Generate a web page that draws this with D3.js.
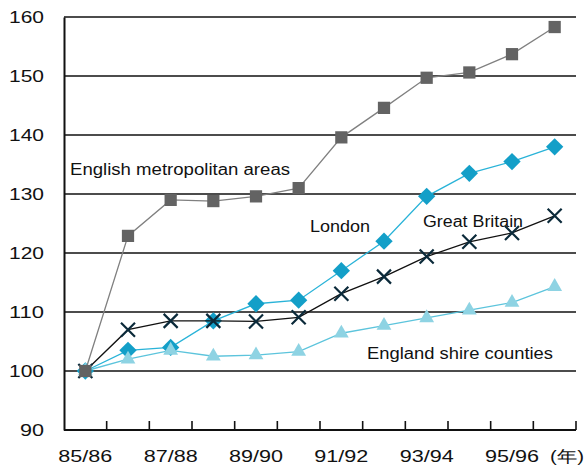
<!DOCTYPE html>
<html>
<head>
<meta charset="utf-8">
<script src="https://cdn.jsdelivr.net/npm/d3@7"></script>
<style>
  html, body { margin: 0; padding: 0; background: #fff; }
  svg { display: block; }
  text { font-family: "Liberation Sans", Arial, sans-serif; fill: #111; }
</style>
</head>
<body>
<svg id="chart" width="585" height="470"></svg>
<script>
// Fiscal years on the horizontal axis
const categories = ["85/86","86/87","87/88","88/89","89/90","90/91","91/92","92/93","93/94","94/95","95/96","96/97"];
// Index values (1985/86 = 100)
const metroValues  = [100, 122.9, 129.0, 128.8, 129.6, 131.0, 139.6, 144.6, 149.7, 150.6, 153.7, 158.3];
const londonValues = [100, 103.5, 104.0, 108.5, 111.4, 112.0, 117.0, 122.0, 129.6, 133.5, 135.5, 138.0];
const britainValues = [100, 107.0, 108.5, 108.5, 108.4, 109.1, 113.1, 116.0, 119.4, 121.9, 123.4, 126.3];
const shireValues  = [100, 102.0, 103.5, 102.5, 102.7, 103.3, 106.4, 107.7, 109.0, 110.3, 111.6, 114.3];
const yTicks = [90, 100, 110, 120, 130, 140, 150, 160];
const xTickLabels = ["85/86", "87/88", "89/90", "91/92", "93/94", "95/96"];
const unitLabel = "(年)";
const seriesNames = ["English metropolitan areas", "London", "Great Britain", "England shire counties"];

(function () {
  const svg = d3.select("#chart");
  const plotLeft = 64, plotRight = 576, plotTop = 17, plotBottom = 430;

  const x = d3.scaleBand().domain(categories).range([plotLeft, plotRight]);
  const y = d3.scaleLinear().domain([90, 160]).range([plotBottom, plotTop]);
  const cx = c => x(c) + x.bandwidth() / 2;

  // Horizontal gridlines
  svg.append("g").selectAll("line").data(yTicks.filter(t => t > 90)).join("line")
    .attr("x1", plotLeft).attr("x2", plotRight)
    .attr("y1", d => y(d)).attr("y2", d => y(d))
    .attr("stroke", "#111").attr("stroke-width", 1.6);

  // Y axis
  const yAxis = svg.append("g").attr("transform", `translate(${plotLeft},0)`)
    .call(d3.axisLeft(y).tickValues(yTicks).tickSize(0).tickPadding(20));
  yAxis.attr("font-family", null).attr("font-size", null);
  yAxis.select(".domain").attr("stroke", "#111").attr("stroke-width", 2);
  yAxis.selectAll("text").attr("font-size", 17).attr("fill", "#111")
    .attr("textLength", d => d >= 100 ? 35 : 24).attr("lengthAdjust", "spacingAndGlyphs");

  // X axis: ticks at category boundaries, pointing up into the plot
  const xAxisG = svg.append("g").attr("transform", `translate(0,${plotBottom})`);
  xAxisG.append("line").attr("x1", plotLeft).attr("x2", plotRight).attr("y1", 0).attr("y2", 0)
    .attr("stroke", "#111").attr("stroke-width", 2);
  xAxisG.selectAll("line.tick").data(categories).join("line").attr("class", "tick")
    .attr("x1", d => x(d) + x.bandwidth()).attr("x2", d => x(d) + x.bandwidth())
    .attr("y1", 0).attr("y2", -9)
    .attr("stroke", "#111").attr("stroke-width", 1.6);
  xAxisG.selectAll("text.lab").data(xTickLabels).join("text").attr("class", "lab")
    .attr("x", d => cx(d))
    .attr("y", 32).attr("text-anchor", "middle").attr("font-size", 16)
    .attr("textLength", 54).attr("lengthAdjust", "spacingAndGlyphs")
    .text(d => d);
  xAxisG.append("text").attr("x", 567).attr("y", 32).attr("text-anchor", "middle")
    .attr("font-size", 16).attr("font-family", "Noto Sans CJK JP")
    .attr("textLength", 34).attr("lengthAdjust", "spacingAndGlyphs")
    .text(unitLabel);

  const line = d3.line().x((d, i) => cx(categories[i])).y(d => y(d));

  function drawSeries(values, color, shape, size, fill, rotate) {
    svg.append("path").datum(values).attr("d", line)
      .attr("fill", "none").attr("stroke", color).attr("stroke-width", 1.3);
    const g = svg.append("g");
    if (shape === "cross") {
      const s = size / 2;
      g.selectAll("path").data(values).join("path")
        .attr("transform", (d, i) => `translate(${cx(categories[i])},${y(d)})`)
        .attr("d", `M${-s},${-s}L${s},${s}M${-s},${s}L${s},${-s}`)
        .attr("stroke", fill).attr("stroke-width", 2.2).attr("fill", "none");
    } else {
      g.selectAll("path").data(values).join("path")
        .attr("transform", (d, i) => `translate(${cx(categories[i])},${y(d)}) rotate(${rotate || 0})`)
        .attr("d", d3.symbol().type(shape).size(size))
        .attr("fill", fill);
    }
  }

  drawSeries(londonValues, "#29b3d8", d3.symbolSquare, 150, "#139fc8", 45);
  drawSeries(shireValues, "#5cc4dc", d3.symbolTriangle, 95, "#8ed3e3");
  drawSeries(britainValues, "#111", "cross", 14, "#0b2a3a");
  drawSeries(metroValues, "#808080", d3.symbolSquare, 150, "#636363");

  // Series labels
  const labelPos = [
    { x: 70, y: 175, w: 220 },
    { x: 310, y: 232, w: 60 },
    { x: 423, y: 227, w: 100 },
    { x: 367, y: 359, w: 186 }
  ];
  svg.append("g").selectAll("text").data(seriesNames).join("text")
    .attr("x", (d, i) => labelPos[i].x).attr("y", (d, i) => labelPos[i].y)
    .attr("font-size", 16)
    .attr("textLength", (d, i) => labelPos[i].w).attr("lengthAdjust", "spacingAndGlyphs")
    .text(d => d);
})();
</script>
</body>
</html>
